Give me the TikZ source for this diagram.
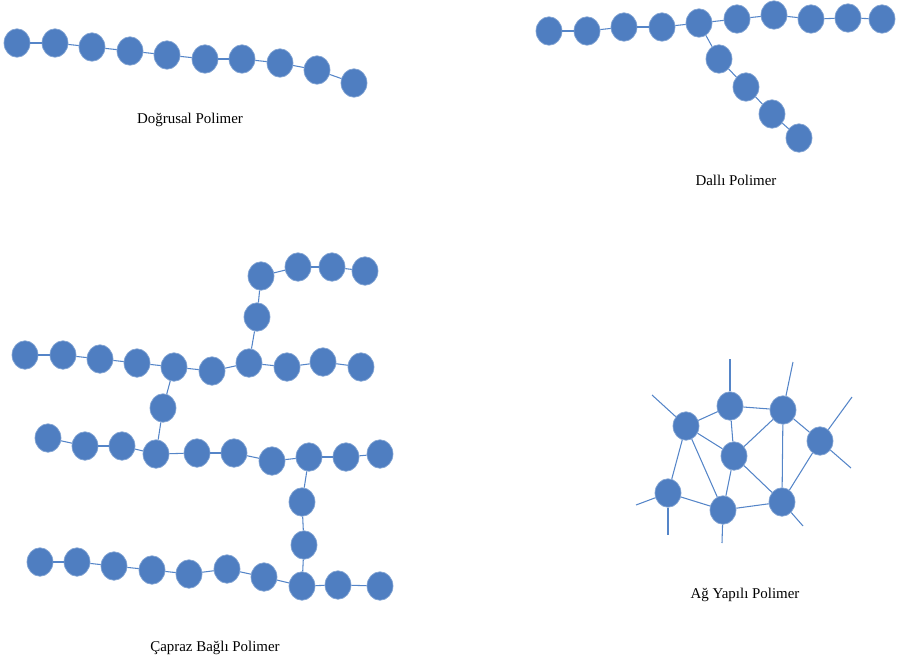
\documentclass[tikz,border=0pt]{standalone}
\usepackage{fontspec}
\setmainfont{Liberation Serif}
\usetikzlibrary{shapes.geometric}
\definecolor{atom}{HTML}{4F7EC1}
\definecolor{bond}{HTML}{5585C8}
\tikzset{mon/.style={ellipse,fill=atom,draw=atom!70!white,line width=0.4pt,minimum width=0.52cm,minimum height=0.57cm,inner sep=0pt},
  bnd/.style={draw=bond,line width=0.6pt},
  lbl/.style={font=\fontsize{8.5}{10}\selectfont}}

\begin{document}
\begin{tikzpicture}[x=0.02cm,y=-0.02cm]
\useasboundingbox (0,0) rectangle (897,663);
% linear
\foreach \p [count=\i] in {(17,43),(55,43),(92,47),(130,51),(167,55),(205,59),(242,59),(280,63),(317,70),(354,83)}
  \node[mon] (l\i) at \p {};
\foreach \i [remember=\i as \j (initially 1)] in {2,...,10} \draw[bnd] (l\j)--(l\i);
\node[lbl] (tl) at (190,120) {Doğrusal Polimer};
% branched
\foreach \p [count=\i] in {(549,31),(587,31),(624,27),(662,27),(699,23),(737,19),(774,15),(811,19),(848,18),(882,19)}
  \node[mon] (d\i) at \p {};
\foreach \p [count=\i] in {(719,59),(746,87),(772,114),(799,138)}
  \node[mon] (e\i) at \p {};
\foreach \i [remember=\i as \j (initially 1)] in {2,...,10} \draw[bnd] (d\j)--(d\i);
\foreach \i [remember=\i as \j (initially 1)] in {2,...,4} \draw[bnd] (e\j)--(e\i);
\draw[bnd] (d5)--(e1);
\node[lbl] (tb) at (736,180) {Dallı Polimer};
% cross-linked
\foreach \p [count=\i] in {(261,276),(298,267),(332,267),(365,271)}
  \node[mon] (t\i) at \p {};
\foreach \p [count=\i] in {(25,355),(63,355),(100,359),(137,363),(174,367),(212,371),(249,363),(287,367),(323,362),(361,367)}
  \node[mon] (a\i) at \p {};
\foreach \p [count=\i] in {(48,438),(85,446),(122,446),(156,454),(197,453),(234,453),(272,461),(309,457),(346,457),(380,454)}
  \node[mon] (b\i) at \p {};
\foreach \p [count=\i] in {(40,562),(77,562),(114,566),(152,570),(189,574),(227,569),(264,577),(302,586),(338,585),(380,586)}
  \node[mon] (c\i) at \p {};
\node[mon] (x1) at (257,317) {};
\node[mon] (x2) at (163,408) {};
\node[mon] (x3) at (302,502) {};
\node[mon] (x4) at (304,545) {};
\foreach \i [remember=\i as \j (initially 1)] in {2,...,4} \draw[bnd] (t\j)--(t\i);
\foreach \r in {a,b,c}
  \foreach \i [remember=\i as \j (initially 1)] in {2,...,10} \draw[bnd] (\r\j)--(\r\i);
\draw[bnd] (t1)--(x1)--(a7);
\draw[bnd] (a5)--(x2)--(b4);
\draw[bnd] (b8)--(x3)--(x4)--(c8);
\node[lbl] (tc) at (215,648) {Çapraz Bağlı Polimer};
% network
\node[mon] (n1) at (686,426) {};
\node[mon] (n2) at (730,406) {};
\node[mon] (n3) at (783,410) {};
\node[mon] (n4) at (820,441) {};
\node[mon] (n5) at (734,456) {};
\node[mon] (n6) at (668,493) {};
\node[mon] (n7) at (723,510) {};
\node[mon] (n8) at (782,502) {};
\foreach \u/\v in {n1/n2,n2/n3,n1/n5,n2/n5,n3/n5,n3/n4,n3/n8,n4/n8,n5/n7,n5/n8,n1/n6,n1/n7,n6/n7,n7/n8}
  \draw[bnd] (\u)--(\v);
\coordinate (f1) at (652,395);
\coordinate (f2) at (730,359);
\coordinate (f3) at (793,362);
\coordinate (f4) at (852,397);
\coordinate (f5) at (851,468);
\coordinate (f6) at (636,505);
\coordinate (f7) at (668,535);
\coordinate (f8) at (722,543);
\coordinate (f9) at (803,526);
\foreach \u/\v in {n1/f1,n2/f2,n3/f3,n4/f4,n4/f5,n6/f6,n6/f7,n7/f8,n8/f9}
  \draw[bnd] (\u)--(\v);
\node[lbl] (tn) at (745,595) {Ağ Yapılı Polimer};
\end{tikzpicture}
\end{document}
